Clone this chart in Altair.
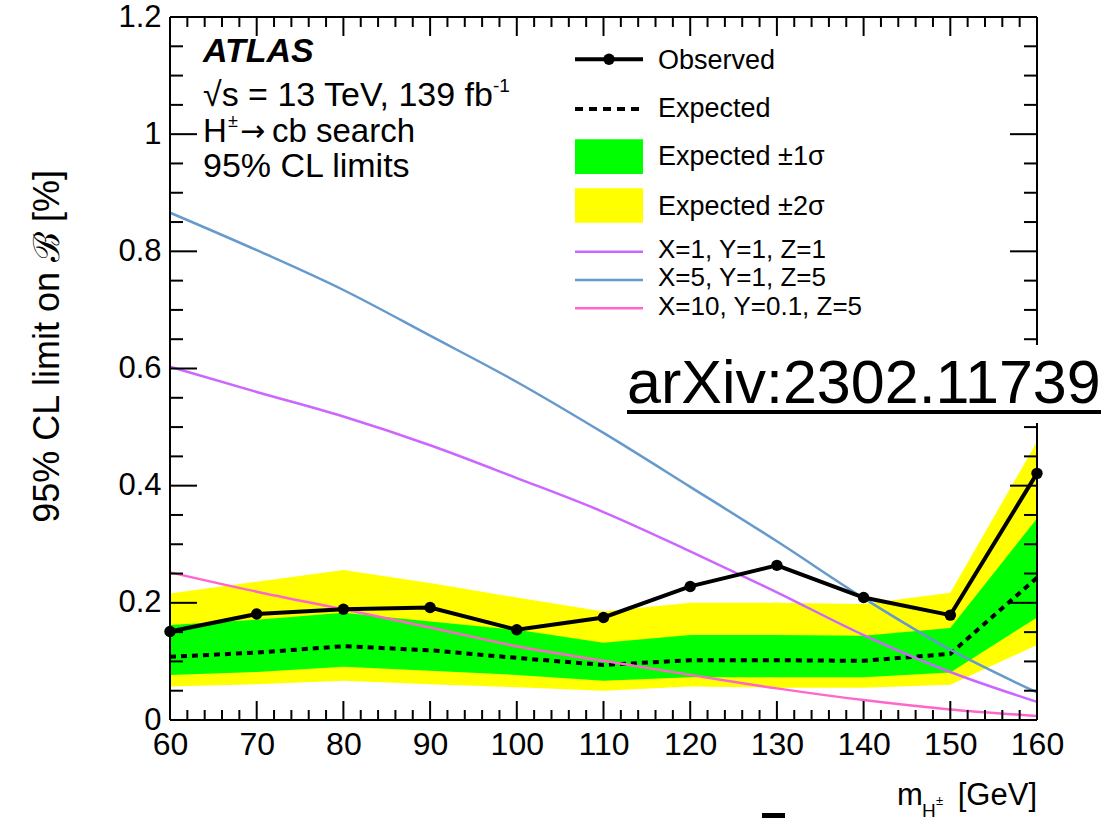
import altair as alt
import pandas as pd

# Charged Higgs mass points (GeV)
mass = [60, 70, 80, 90, 100, 110, 120, 130, 140, 150, 160]

# 95% CL upper limits on the branching fraction [%]
observed = [0.151, 0.181, 0.189, 0.192, 0.154, 0.175, 0.228, 0.264, 0.209, 0.179, 0.421]
expected = [0.108, 0.115, 0.126, 0.119, 0.106, 0.094, 0.102, 0.102, 0.101, 0.113, 0.243]
exp_1s_lo = [0.077, 0.082, 0.091, 0.084, 0.077, 0.067, 0.073, 0.073, 0.073, 0.081, 0.175]
exp_1s_hi = [0.162, 0.171, 0.183, 0.168, 0.154, 0.132, 0.145, 0.145, 0.144, 0.157, 0.344]
exp_2s_lo = [0.057, 0.061, 0.067, 0.061, 0.056, 0.050, 0.057, 0.055, 0.055, 0.060, 0.128]
exp_2s_hi = [0.216, 0.236, 0.256, 0.234, 0.209, 0.185, 0.200, 0.200, 0.198, 0.217, 0.475]

# Model predictions for three benchmark parameter sets
model_labels = ["X=1, Y=1, Z=1", "X=5, Y=1, Z=5", "X=10, Y=0.1, Z=5"]
model_colors = ["#cc66ff", "#6699cc", "#ff66cc"]
model_a = [0.603, 0.560, 0.518, 0.469, 0.413, 0.355, 0.288, 0.218, 0.145, 0.082, 0.031]
model_b = [0.866, 0.802, 0.734, 0.656, 0.577, 0.490, 0.398, 0.305, 0.208, 0.120, 0.047]
model_c = [0.252, 0.219, 0.189, 0.158, 0.126, 0.101, 0.077, 0.054, 0.034, 0.018, 0.007]

# Tick positions
x_major = [60, 70, 80, 90, 100, 110, 120, 130, 140, 150, 160]
x_minor = [62, 64, 66, 68, 72, 74, 76, 78, 82, 84, 86, 88, 92, 94, 96, 98,
           102, 104, 106, 108, 112, 114, 116, 118, 122, 124, 126, 128,
           132, 134, 136, 138, 142, 144, 146, 148, 152, 154, 156, 158]
y_major = [0, 0.2, 0.4, 0.6, 0.8, 1.0, 1.2]
y_minor = [0.05, 0.1, 0.15, 0.25, 0.3, 0.35, 0.45, 0.5, 0.55, 0.65, 0.7, 0.75,
           0.85, 0.9, 0.95, 1.05, 1.1, 1.15]

W, H = 867, 703
FONT = "Liberation Sans"

x_scale = alt.Scale(domain=[60, 160], nice=False, zero=False)
y_scale = alt.Scale(domain=[0, 1.2], nice=False, zero=False)

# One shared axis definition used by every layer, so the merged axis keeps it
x_axis = alt.Axis(values=x_major, ticks=False, domain=False, grid=False,
                  labelFontSize=32, labelPadding=9, labelFlush=False,
                  labelOverlap=False, labelFont=FONT, labelColor="black",
                  title=None)
y_axis = alt.Axis(values=y_major, format="~g", ticks=False, domain=False,
                  grid=False, labelFontSize=31, labelPadding=9,
                  labelFlush=False, labelOverlap=False, labelFont=FONT,
                  labelColor="black", title=None)


def X(field):
    return alt.X(field, type="quantitative", scale=x_scale, axis=x_axis, title=None)


def Y(field):
    return alt.Y(field, type="quantitative", scale=y_scale, axis=y_axis, title=None)


limits = pd.DataFrame({
    "m": mass, "obs": observed, "exp": expected,
    "lo1": exp_1s_lo, "hi1": exp_1s_hi, "lo2": exp_2s_lo, "hi2": exp_2s_hi,
})

models = pd.concat([
    pd.DataFrame({"m": mass, "v": vals, "model": name})
    for name, vals in zip(model_labels, [model_a, model_b, model_c])
])

anchor = pd.DataFrame({"k": [0]})

layers = []

# Expected bands
layers.append(alt.Chart(limits).mark_area(color="#ffff00", opacity=1).encode(
    x=X("m"), y=Y("lo2"), y2="hi2"))
layers.append(alt.Chart(limits).mark_area(color="#00ff00", opacity=1).encode(
    x=X("m"), y=Y("lo1"), y2="hi1"))

# Expected limit
layers.append(alt.Chart(limits).mark_line(color="black", strokeWidth=4,
                                          strokeDash=[6, 5]).encode(
    x=X("m"), y=Y("exp")))

# Model curves
layers.append(alt.Chart(models).mark_line(strokeWidth=2.5, interpolate="monotone").encode(
    x=X("m"), y=Y("v"),
    color=alt.Color("model:N", scale=alt.Scale(domain=model_labels, range=model_colors),
                    legend=None)))

# Frame
rule = dict(color="black", strokeWidth=2)
layers.append(alt.Chart(anchor).mark_rule(**rule).encode(
    x=alt.value(0), y=alt.value(0), y2=alt.value(H)))
layers.append(alt.Chart(anchor).mark_rule(**rule).encode(
    x=alt.value(W), y=alt.value(0), y2=alt.value(H)))
layers.append(alt.Chart(anchor).mark_rule(**rule).encode(
    x=alt.value(0), x2=alt.value(W), y=alt.value(0)))
layers.append(alt.Chart(anchor).mark_rule(**rule).encode(
    x=alt.value(0), x2=alt.value(W), y=alt.value(H)))

# Inward ticks on all four sides
xmaj = pd.DataFrame({"m": x_major})
xmin = pd.DataFrame({"m": x_minor})
ymaj = pd.DataFrame({"v": y_major})
ymin = pd.DataFrame({"v": y_minor})
for df, size in [(xmaj, 19), (xmin, 10)]:
    layers.append(alt.Chart(df).mark_rule(**rule).encode(
        x=X("m"), y=alt.value(H), y2=alt.value(H - size)))
    layers.append(alt.Chart(df).mark_rule(**rule).encode(
        x=X("m"), y=alt.value(0), y2=alt.value(size)))
for df, size in [(ymaj, 27), (ymin, 13)]:
    layers.append(alt.Chart(df).mark_rule(**rule).encode(
        y=Y("v"), x=alt.value(0), x2=alt.value(size)))
    layers.append(alt.Chart(df).mark_rule(**rule).encode(
        y=Y("v"), x=alt.value(W), x2=alt.value(W - size)))

# Observed limit
layers.append(alt.Chart(limits).mark_line(color="black", strokeWidth=4).encode(
    x=X("m"), y=Y("obs")))
layers.append(alt.Chart(limits).mark_circle(color="black", size=130, opacity=1).encode(
    x=X("m"), y=Y("obs")))


def text(t, x, y, size, align="left", baseline="alphabetic", angle=None,
         weight="normal", style="normal", font=FONT):
    kw = dict(align=align, baseline=baseline, fontSize=size, font=font,
              fontWeight=weight, fontStyle=style, color="black")
    if angle is not None:
        kw["angle"] = angle
    return alt.Chart(anchor).mark_text(**kw).encode(
        x=alt.value(x), y=alt.value(y), text=alt.value(t))


# Legend
layers.append(alt.Chart(anchor).mark_rule(color="black", strokeWidth=4).encode(
    x=alt.value(405), x2=alt.value(473), y=alt.value(42.3)))
layers.append(alt.Chart(anchor).mark_circle(color="black", size=130, opacity=1).encode(
    x=alt.value(439), y=alt.value(42.3)))
layers.append(alt.Chart(anchor).mark_rule(color="black", strokeWidth=4,
                                          strokeDash=[8, 6]).encode(
    x=alt.value(405), x2=alt.value(472), y=alt.value(92)))
layers.append(alt.Chart(anchor).mark_rect(color="#00ff00", opacity=1).encode(
    x=alt.value(405), x2=alt.value(473), y=alt.value(122.3), y2=alt.value(157)))
layers.append(alt.Chart(anchor).mark_rect(color="#ffff00", opacity=1).encode(
    x=alt.value(405), x2=alt.value(473), y=alt.value(171.3), y2=alt.value(205.7)))
for yy, col in zip([234.7, 263, 291.3], model_colors):
    layers.append(alt.Chart(anchor).mark_rule(color=col, strokeWidth=2.5).encode(
        x=alt.value(405), x2=alt.value(473), y=alt.value(yy)))

layers.append(text("Observed", 488, 43.7, 27, baseline="middle"))
layers.append(text("Expected", 488, 92, 27, baseline="middle"))
layers.append(text("Expected \u00b11\u03c3", 488, 139.7, 27, baseline="middle"))
layers.append(text("Expected \u00b12\u03c3", 488, 189.7, 27, baseline="middle"))
for yy, lab in zip([233, 261, 289.7], model_labels):
    layers.append(text(lab, 488, yy, 26, baseline="middle"))

# Experiment label block
layers.append(text("ATLAS", 33, 45, 34, weight="bold", style="italic"))
layers.append(text("\u221as = 13 TeV, 139 fb", 33, 89, 34))
layers.append(text("-1", 323, 75, 19))
layers.append(text("H", 33, 125, 33))
layers.append(text("\u00b1", 58, 110, 18))
layers.append(text("\u2192", 70, 124, 30, font="DejaVu Sans"))
layers.append(text("cb search", 102, 125, 33))
layers.append(text("95% CL limits", 33, 160, 34))

# Axis titles
layers.append(text("95% CL limit on \u212c [%]", -111, 153, 36, align="right", angle=270))
layers.append(text("m", 727, 788, 31))
layers.append(text("H", 752, 800, 19))
layers.append(text("\u00b1", 766, 788, 13))
layers.append(text("[GeV]", W, 788, 31, align="right"))

# Reference tag
layers.append(alt.Chart(anchor).mark_rect(color="white", opacity=1).encode(
    x=alt.value(450), x2=alt.value(935), y=alt.value(328), y2=alt.value(406)))
layers.append(text("arXiv:2302.11739", 457, 386, 61))
layers.append(alt.Chart(anchor).mark_rect(color="black", opacity=1).encode(
    x=alt.value(457), x2=alt.value(931), y=alt.value(393), y2=alt.value(397)))

# Small mark below the axis
layers.append(alt.Chart(anchor).mark_rect(color="black", opacity=1).encode(
    x=alt.value(592), x2=alt.value(615), y=alt.value(796), y2=alt.value(801)))

chart = alt.layer(*layers).properties(
    width=W, height=H,
    autosize=alt.AutoSizeParams(type="none"),
    padding={"left": 170, "top": 17, "right": 81, "bottom": 98},
).configure_view(stroke=None)

chart.save("out.html", embed_options={"renderer": "svg", "actions": False})
